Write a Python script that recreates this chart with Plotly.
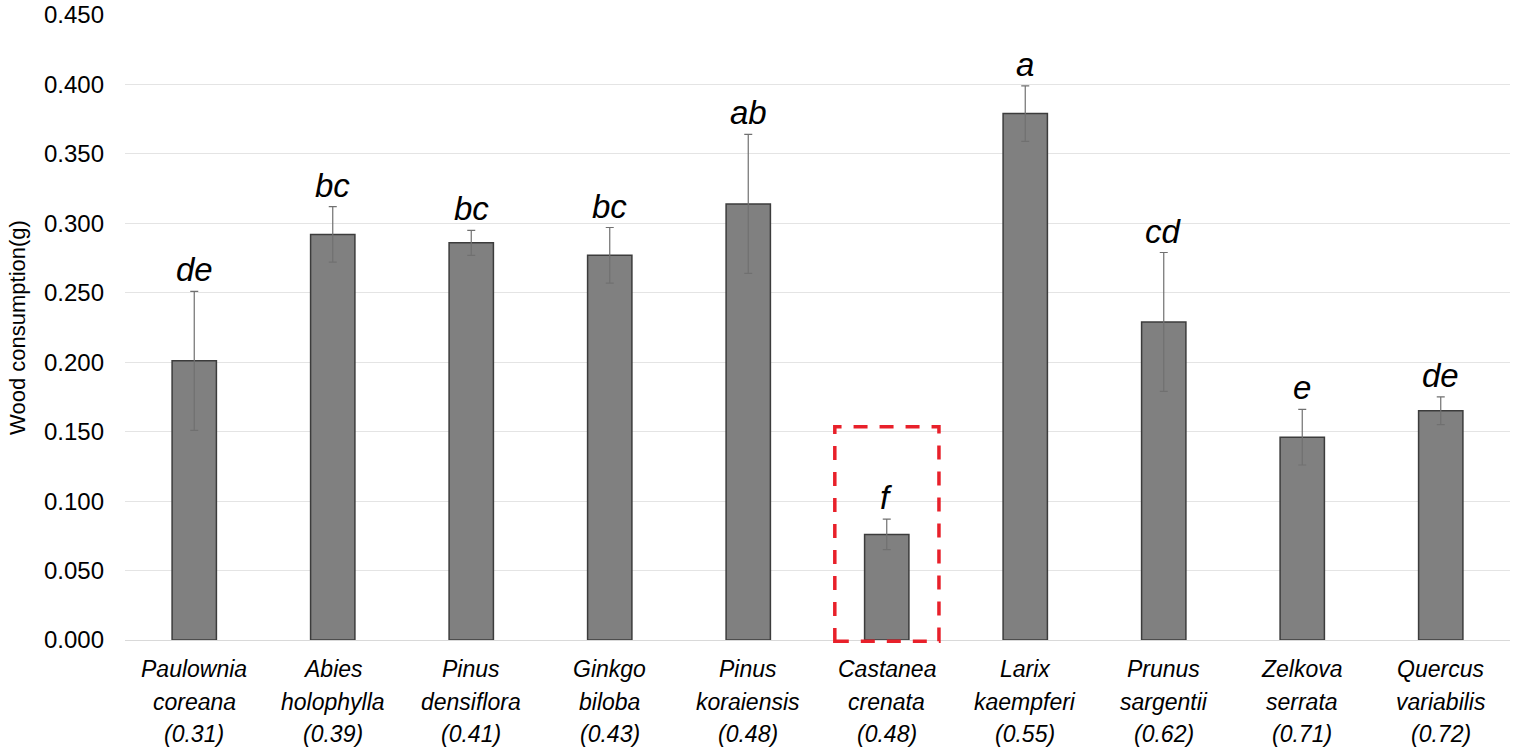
import plotly.graph_objects as go

genus = ["Paulownia", "Abies", "Pinus", "Ginkgo", "Pinus", "Castanea", "Larix", "Prunus", "Zelkova", "Quercus"]
species = ["coreana", "holophylla", "densiflora", "biloba", "koraiensis", "crenata", "kaempferi", "sargentii", "serrata", "variabilis"]
density = ["(0.31)", "(0.39)", "(0.41)", "(0.43)", "(0.48)", "(0.48)", "(0.55)", "(0.62)", "(0.71)", "(0.72)"]
consumption = [0.201, 0.292, 0.286, 0.277, 0.314, 0.076, 0.379, 0.229, 0.146, 0.165]
error = [0.050, 0.020, 0.009, 0.020, 0.050, 0.011, 0.020, 0.050, 0.020, 0.010]
letters = ["de", "bc", "bc", "bc", "ab", "f", "a", "cd", "e", "de"]
highlight_index = 5
highlight_top = 0.1535
yticks = [0.0, 0.05, 0.1, 0.15, 0.2, 0.25, 0.3, 0.35, 0.4, 0.45]
ymax = 0.45

cats = [f"{g} {s}" for g, s in zip(genus, species)]
FONT = "Liberation Sans, Arial, sans-serif"

fig = go.Figure()
fig.add_trace(go.Bar(
    x=cats, y=consumption, width=0.32,
    marker=dict(color="#808080", line=dict(color="#3c3c3c", width=1.5)),
    error_y=dict(type="data", array=error, visible=True, color="#707070", thickness=1.2, width=4),
    showlegend=False,
))

annotations = []
for i, c in enumerate(cats):
    annotations.append(dict(x=c, y=consumption[i] + error[i], xref="x", yref="y",
                            text=f"<i>{letters[i]}</i>", showarrow=False, yanchor="bottom",
                            yshift=1, font=dict(family=FONT, size=33, color="#000000")))
    for k, line in enumerate([genus[i], species[i], density[i]]):
        annotations.append(dict(x=c, y=0, xref="x", yref="y", text=f"<i>{line}</i>",
                                showarrow=False, yanchor="middle", yshift=-29 - 32.5 * k,
                                font=dict(family=FONT, size=23, color="#000000")))

# highlight box: x on category axis, y in paper units derived from the data range
fig.add_shape(type="rect", xref="x", yref="paper",
              x0=highlight_index - 0.375, x1=highlight_index + 0.377,
              y0=-0.002, y1=highlight_top / ymax,
              line=dict(color="#e8202a", width=3.5, dash="14px,12px"), fillcolor="rgba(0,0,0,0)")

fig.update_layout(
    width=1513, height=749,
    margin=dict(l=125, r=3, t=15, b=109, autoexpand=False),
    plot_bgcolor="white", paper_bgcolor="white",
    annotations=annotations,
    font=dict(family=FONT, color="#000000"),
    xaxis=dict(showticklabels=False, showgrid=False, showline=False, zeroline=False,
               range=[-0.5, len(cats) - 0.5], automargin=False),
    yaxis=dict(range=[0, ymax], tickvals=yticks, tickformat=".3f", automargin=False,
               showgrid=True, gridcolor="#e4e4e4", gridwidth=1, zeroline=True,
               zerolinecolor="#d9d9d9", zerolinewidth=1,
               tickfont=dict(family=FONT, size=24, color="#000000"),
               ticklabelstandoff=20,
               title=dict(text="Wood consumption(g)", font=dict(family=FONT, size=22, color="#000000"),
                          standoff=12)),
)

fig.write_html("out.html")
